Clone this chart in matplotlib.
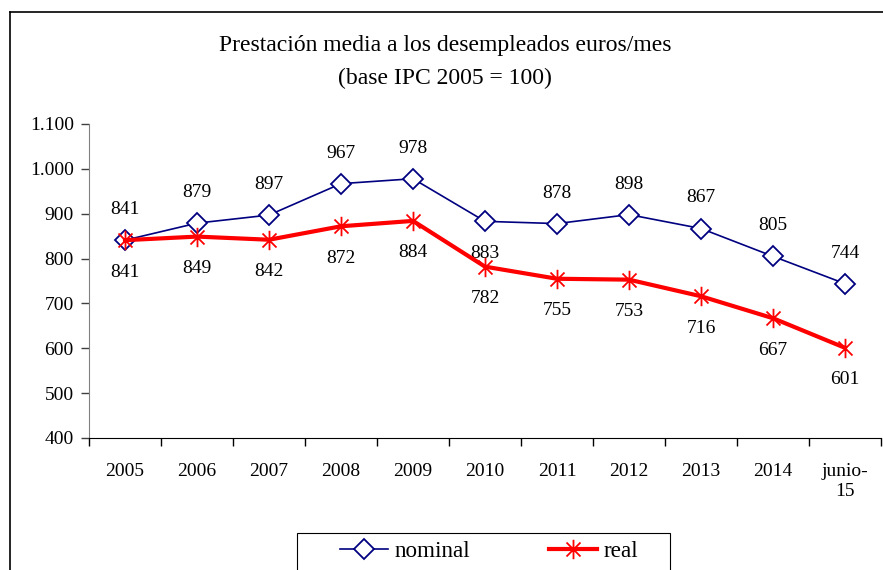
import matplotlib.pyplot as plt
import numpy as np
from matplotlib.lines import Line2D
from matplotlib.patches import Rectangle
from matplotlib.path import Path
from matplotlib.ticker import FuncFormatter

plt.rcParams['font.family'] = ['Liberation Serif', 'DejaVu Serif']

periodos = ['2005', '2006', '2007', '2008', '2009', '2010', '2011',
            '2012', '2013', '2014', 'junio-\n15']
nominal = [841, 879, 897, 967, 978, 883, 878, 898, 867, 805, 744]
real = [841, 849, 842, 872, 884, 782, 755, 753, 716, 667, 601]

# asterisco tipo Excel: vertical + aspa
d = 0.72
star = Path([(0, -1), (0, 1), (-d, -d), (d, d), (-d, d), (d, -d)],
            [Path.MOVETO, Path.LINETO, Path.MOVETO, Path.LINETO,
             Path.MOVETO, Path.LINETO])

fig = plt.figure(figsize=(8.83, 5.7), dpi=100)
ax = fig.add_axes([89 / 883, 1 - 438 / 570, 792 / 883, 314 / 570])

x = np.arange(len(periodos))
ax.plot(x, nominal, color='#000080', lw=1.2, marker='D', markersize=10,
        markerfacecolor='white', markeredgecolor='#000080', mew=1.3,
        label='nominal', zorder=3)
ax.plot(x, real, color='#ff0000', lw=3, marker=star, markersize=14,
        markeredgecolor='#ff0000', mew=1.3, label='real', zorder=4)

# etiquetas de valores
for i, v in enumerate(nominal):
    dy = -23 if i == 5 else 22
    ax.annotate(str(v), (i, v), xytext=(0, dy), textcoords='offset points',
                ha='center', va='center', fontsize=14)
for i, v in enumerate(real):
    ax.annotate(str(v), (i, v), xytext=(0, -23), textcoords='offset points',
                ha='center', va='center', fontsize=14)

ax.set_xlim(-0.5, len(periodos) - 0.5)
ax.set_ylim(400, 1100)
ax.set_yticks(range(400, 1101, 100))
ax.yaxis.set_major_formatter(FuncFormatter(
    lambda v, p: f'{int(v):,}'.replace(',', '.')))

ax.set_xticks(np.arange(-0.5, len(periodos), 1))
ax.set_xticklabels([])
ax.set_xticks(x, minor=True)
ax.set_xticklabels(periodos, minor=True)
ax.tick_params(axis='x', which='major', direction='out', length=6,
               width=1, color='black')
ax.tick_params(axis='x', which='minor', length=0, pad=18, labelsize=14)
ax.tick_params(axis='y', direction='out', length=6, width=1, pad=5,
               labelsize=14, color='#404040')

for s in ['top', 'right']:
    ax.spines[s].set_visible(False)
ax.spines['left'].set_color('#808080')
ax.spines['bottom'].set_color('black')

fig.text(445 / 883, 1 - 45 / 570, 'Prestación media a los desempleados euros/mes',
         ha='center', va='center', fontsize=17)
fig.text(445 / 883, 1 - 78 / 570, '(base IPC 2005 = 100)',
         ha='center', va='center', fontsize=17)

# marco del gráfico
fig.add_artist(Line2D([10 / 883, 10 / 883], [0, 1 - 12 / 570],
                      color='black', lw=1.2, transform=fig.transFigure))
fig.add_artist(Line2D([10 / 883, 1], [1 - 12 / 570, 1 - 12 / 570],
                      color='black', lw=1.2, transform=fig.transFigure))

# leyenda: marco aparte y entradas sin marco
fig.add_artist(Rectangle((297 / 883, -0.1), 373 / 883, 1 - 533 / 570 + 0.1,
                         transform=fig.transFigure, facecolor='white',
                         edgecolor='black', lw=0.8, zorder=5))
leg = fig.legend(loc='center left', bbox_to_anchor=(340 / 883, 1 - 551 / 570),
                 ncol=2, fontsize=16.7, frameon=False, handlelength=2.07,
                 handletextpad=0.3, columnspacing=3.36, borderpad=0,
                 borderaxespad=0)
leg.set_zorder(6)

fig.savefig('out.png', dpi=100)
